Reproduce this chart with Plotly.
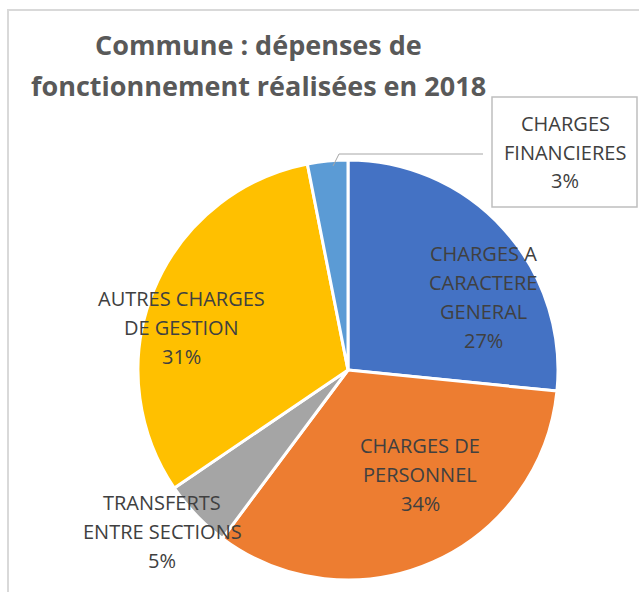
"""Pie chart: commune operating expenses 2018"""

import plotly.graph_objects as go

W, H = 639, 592

categories = ['CHARGES A CARACTERE GENERAL', 'CHARGES DE PERSONNEL',
              'TRANSFERTS ENTRE SECTIONS', 'AUTRES CHARGES DE GESTION',
              'CHARGES FINANCIERES']
label_lines = [['CHARGES A', 'CARACTERE', 'GENERAL'],
               ['CHARGES DE', 'PERSONNEL'],
               ['TRANSFERTS', 'ENTRE SECTIONS'],
               ['AUTRES CHARGES', 'DE GESTION'],
               ['CHARGES', 'FINANCIERES']]
values = [26.6, 33.6, 5.3, 31.4, 3.1]
colors = ['#4472C4', '#ED7D31', '#A5A5A5', '#FFC000', '#5B9BD5']

# label centre (first line) in screen pixels
label_pos = [(483, 253), (420, 445), (162, 502), (181, 298), (565, 123)]

title_lines = ['Commune : dépenses de', 'fonctionnement réalisées en 2018']


def px(x, y):
    return x / W, 1 - y / H


def add_lines(fig, lines, x, y, step, font):
    for i, t in enumerate(lines):
        xp, yp = px(x, y + i * step)
        fig.add_annotation(x=xp, y=yp, xref='paper', yref='paper', text=t,
                           showarrow=False, xanchor='center', yanchor='middle',
                           font=font)


fig = go.Figure()

# chart border (cropped on right/bottom)
x0, y0 = px(8, 10)
x1, y1 = px(680, 640)
fig.add_shape(type='rect', xref='paper', yref='paper', x0=x0, y0=y1, x1=x1, y1=y0,
              line=dict(color='#D9D9D9', width=2), layer='below')

dx0, dy1 = px(138, 160)
dx1, dy0 = px(558, 580)
fig.add_trace(go.Pie(
    labels=categories, values=values, sort=False, direction='clockwise',
    rotation=0, marker=dict(colors=colors, line=dict(color='white', width=3)),
    textinfo='none', showlegend=False,
    domain=dict(x=[dx0, dx1], y=[dy0, dy1])))

# callout box for small slice
bx0, by0 = px(492, 97)
bx1, by1 = px(637, 207)
fig.add_shape(type='rect', xref='paper', yref='paper', x0=bx0, y0=by1, x1=bx1, y1=by0,
              line=dict(color='#BFBFBF', width=1.5), fillcolor='white')
pts = [px(483, 154), px(339, 154), px(333, 166)]
path = 'M {} {} L {} {} L {} {}'.format(*[c for p in pts for c in p])
fig.add_shape(type='path', xref='paper', yref='paper', path=path,
              line=dict(color='#A6A6A6', width=1))

label_font = dict(family='Open Sans', size=20, color='#404040')
total = sum(values)
for lines, v, (lx, ly) in zip(label_lines, values, label_pos):
    add_lines(fig, lines + ['{:.0f}%'.format(v / total * 100)], lx, ly, 29, label_font)

add_lines(fig, title_lines, 258, 45, 40,
          dict(family='Open Sans', size=27, color='#595959', weight='bold'))

fig.update_layout(
    width=W, height=H,
    margin=dict(l=0, r=0, t=0, b=0),
    paper_bgcolor='white',
    plot_bgcolor='white')

# drop the default 8px page margin so the figure fills the window
fig.write_html('out.html', config={'displayModeBar': False},
               post_script="document.body.style.margin='0';document.body.style.overflow='hidden';")
